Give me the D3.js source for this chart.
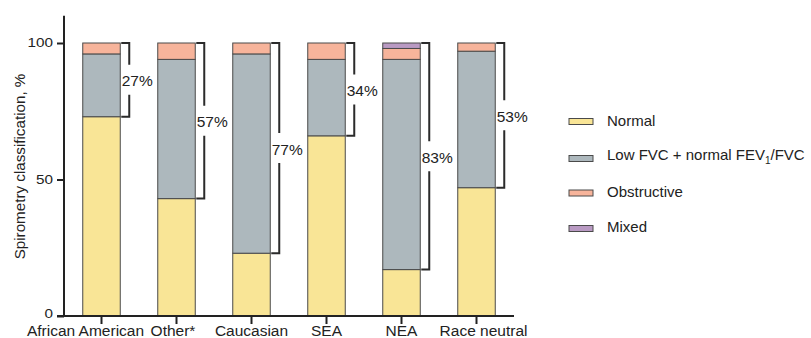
<!DOCTYPE html>
<html>
<head>
<meta charset="utf-8">
<script src="https://cdn.jsdelivr.net/npm/d3@7"></script>
<style>
  body { margin: 0; background: #fff; }
  svg { display: block; font-family: "Liberation Sans", Arial, sans-serif; }
</style>
</head>
<body>
<svg id="chart" width="811" height="338"></svg>
<script>
// Spirometry classification by reference equation (percent of participants)
const categories = ["African American", "Other*", "Caucasian", "SEA", "NEA", "Race neutral"];
const normal      = [73, 43, 23, 66, 17, 47];
const lowFVC      = [23, 51, 73, 28, 77, 50];
const obstructive = [4, 6, 4, 6, 4, 3];
const mixed       = [0, 0, 0, 0, 2, 0];
const abnormalLabels = ["27%", "57%", "77%", "34%", "83%", "53%"];
const yTicks = [0, 50, 100];

const seriesNames = ["Normal", "Low FVC + normal FEV1/FVC", "Obstructive", "Mixed"];
const seriesColors = ["#f9e596", "#adb8bd", "#f7b49b", "#b99ac3"];

// horizontal nudges so the long category names do not collide
const labelNudge = [-16, -3.5, 0, 0, 0, 7];

const rows = categories.map((c, i) => ({
  cat: c, Normal: normal[i], "Low FVC + normal FEV1/FVC": lowFVC[i],
  Obstructive: obstructive[i], Mixed: mixed[i]
}));

const svg = d3.select("#chart");
const x = d3.scaleBand().domain(categories).range([64, 514]).paddingInner(0.5).paddingOuter(0.25);
const y = d3.scaleLinear().domain([0, 110]).range([316, 15.7]);
const color = d3.scaleOrdinal().domain(seriesNames).range(seriesColors);

const stack = d3.stack().keys(seriesNames)(rows);

// stacked bars
svg.append("g").selectAll("g").data(stack).join("g")
  .attr("fill", d => color(d.key))
  .selectAll("rect").data(d => d.filter(s => s[1] - s[0] > 0)).join("rect")
  .attr("x", d => x(d.data.cat))
  .attr("width", x.bandwidth())
  .attr("y", d => y(d[1]))
  .attr("height", d => y(d[0]) - y(d[1]))
  .attr("stroke", "#4a4a4a")
  .attr("stroke-width", 1);

// brackets marking the abnormal share of each bar
const br = svg.append("g").attr("stroke", "#2b2b2b").attr("stroke-width", 2).attr("fill", "none");
categories.forEach((c, i) => {
  const x0 = x(c) + x.bandwidth() + 1;
  const xl = x(c) + x.bandwidth() + 9;
  const yTop = y(100), yBot = y(normal[i]);
  const yMid = (yTop + yBot) / 2;
  const gap = 15;
  br.append("path").attr("d", `M${x0},${yTop}H${xl}V${yMid - gap}`);
  br.append("path").attr("d", `M${xl},${yMid + gap}V${yBot}H${x0}`);
  svg.append("text")
    .attr("x", x0 + 0.5)
    .attr("y", yMid + 1)
    .attr("dy", "0.35em")
    .attr("font-family", "'Liberation Sans Narrow', 'Arial Narrow', sans-serif")
    .attr("font-size", 15.5)
    .attr("fill", "#222")
    .text(abnormalLabels[i]);
});

// y axis
const yAxis = svg.append("g").attr("transform", "translate(64,0)")
  .call(d3.axisLeft(y).tickValues(yTicks).tickSize(7).tickPadding(4));
yAxis.select(".domain").attr("d", `M0,${y(110)}V${y(0)}`).attr("stroke", "#222").attr("stroke-width", 2);
yAxis.selectAll(".tick line").attr("stroke", "#222").attr("stroke-width", 2);
yAxis.selectAll(".tick text")
  .attr("font-size", 13)
  .attr("fill", "#222")
  .attr("font-family", "Liberation Sans, Arial, sans-serif")
  .attr("dy", d => d === 0 ? "0.12em" : "0.28em")
  .attr("textLength", d => String(d).length * 8.5)
  .attr("lengthAdjust", "spacingAndGlyphs");

// x axis
const xAxis = svg.append("g").attr("transform", `translate(0,${y(0)})`)
  .call(d3.axisBottom(x).tickSize(8).tickPadding(0));
xAxis.select(".domain").attr("d", `M57,0H514`).attr("stroke", "#222").attr("stroke-width", 2);
xAxis.selectAll(".tick line").attr("stroke", "#222").attr("stroke-width", 2);
xAxis.selectAll(".tick text")
  .attr("font-size", 15.5)
  .attr("fill", "#222")
  .attr("font-family", "Liberation Sans, Arial, sans-serif")
  .attr("y", 19.5)
  .attr("dy", 0)
  .attr("x", (d, i) => labelNudge[i]);

// y axis title
svg.append("text")
  .attr("transform", `translate(25,${166.5}) rotate(-90)`)
  .attr("text-anchor", "middle")
  .attr("font-size", 15.2)
  .attr("fill", "#222")
  .text("Spirometry classification, %");

// legend
const legendY = [121.5, 158.5, 193, 228.5];
const leg = svg.append("g");
seriesNames.forEach((name, i) => {
  leg.append("rect")
    .attr("x", 569).attr("y", legendY[i] - 3)
    .attr("width", 24).attr("height", 6)
    .attr("fill", color(name)).attr("stroke", "#4a4a4a").attr("stroke-width", 1);
});
const lt = (i) => leg.append("text").attr("x", 607).attr("font-size", 15).attr("fill", "#222");
lt(0).attr("y", legendY[0] - 1).attr("dy", "0.35em").text("Normal");
const t1 = lt(1).attr("y", legendY[1] - 4).attr("dy", "0.35em");
t1.append("tspan").text("Low FVC + normal FEV");
t1.append("tspan").attr("font-size", 10).attr("dy", "0.45em").text("1");
t1.append("tspan").attr("dy", "-0.3em").text("/FVC");
lt(2).attr("y", legendY[2] - 1).attr("dy", "0.35em").text("Obstructive");
lt(3).attr("y", legendY[3] - 1.5).attr("dy", "0.35em").text("Mixed");
</script>
</body>
</html>
